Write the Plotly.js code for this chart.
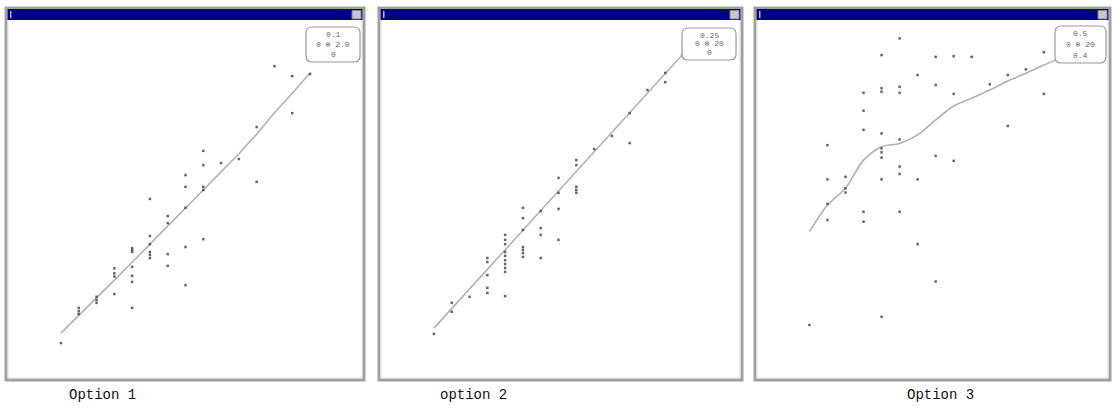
<!DOCTYPE html>
<html><head><meta charset="utf-8">
<script src="https://cdn.plot.ly/plotly-3.0.1.min.js"></script>
<style>html,body{margin:0;padding:0;background:#fff}#c{width:1114px;height:410px}</style>
</head><body><div id="c"></div>
<script>
// ---- data (column index k, value 0-100) ----
const p1X = [1,2,2,2,3,3,3,4,4,4,4,5,5,5,5,5,5,5,6,6,6,6,6,6,7,7,7,7,8,8,8,8,8,9,9,9,9,9,10,11,12,12,13,14,14,15];
const p1Y = [9.8,19.7,18.8,18.0,22.8,21.9,21.1,30.8,29.4,28.5,23.6,36.5,36.0,35.4,31.2,28.7,27.0,19.7,50.3,39.9,37.6,35.4,34.6,33.7,45.5,43.5,34.8,31.5,57.0,53.7,47.8,36.8,26.1,63.8,59.8,53.7,52.8,39.0,60.4,61.5,70.5,55.1,87.6,84.8,74.4,85.4];
const p1LineX = [1,2,3,4,5,6,7,8,9,10,11,12,13,14,15];
const p1LineY = [12.6,17.5,22.5,27.5,32.5,37.6,42.6,47.8,52.8,58.0,63.0,68.5,74.5,80.0,85.7];

const p2X = [1,2,2,3,4,4,4,4,4,5,5,5,5,5,5,5,5,5,5,6,6,6,6,6,6,6,7,7,7,7,8,8,8,8,9,9,9,9,9,10,11,12,12,13,14,14,15];
const p2Y = [12.4,21.1,18.6,22.8,33.7,32.6,28.9,25.3,23.9,40.2,38.8,37.6,35.4,34.3,33.1,32.0,30.9,29.8,23.0,47.8,44.9,41.6,36.8,36.0,35.1,34.0,46.9,42.1,40.2,33.7,56.2,52.0,47.5,38.8,61.2,59.8,53.7,52.8,52.0,64.3,68.0,74.4,66.0,80.9,85.7,83.1,91.0];
const p2LineX = [1,15];
const p2LineY = [14.0,91.0];

const p3X = [1,2,2,2,2,3,3,3,4,4,4,4,4,5,5,5,5,5,5,5,5,5,6,6,6,6,6,6,6,7,7,7,8,8,8,8,9,9,9,10,11,12,12,13,14,14,15];
const p3Y = [14.9,65.4,55.8,48.9,44.4,56.5,53.3,52.1,80.1,75.1,69.7,46.7,43.9,90.7,81.4,80.4,68.7,64.5,63.4,61.9,55.8,17.2,95.4,81.8,80.1,67.0,59.4,57.3,46.7,85.1,55.8,37.6,90.2,82.3,62.4,27.1,90.4,79.8,61.0,90.2,82.5,85.1,70.8,86.7,91.5,79.8,91.9];
const p3LineX = [1,2,3,4,5,6,7,8,9,10,11,12,13,14,14.75];
const p3LineY = [41.1,48.6,53.3,61.2,65.0,65.9,68.3,72.5,76.4,78.6,80.9,83.4,85.6,87.9,89.5];

const captions = ["Option 1","option 2","Option 3"];
const legendTop = ["0.1","0.25","0.5"];
const legendMid = ["0 \u2295 2.0","0 \u2295 20","0 \u2295 20"];
const legendBot = ["0","0","0.4"];

// ---- layout geometry (pixels) ----
const W = 1114, H = 410;
const fx = x => x / W, fy = y => 1 - y / H;
const panels = [
  {frame:[6,8,364,380], plot:[9,22,362,378], xr:[-1.92,17.92], box:[306,27,360,62], cap:102},
  {frame:[379,8,742,380], plot:[382,22,740,378], xr:[-1.92,18.2], box:[682,28,736,60], cap:473},
  {frame:[755,8,1110,380], plot:[758,22,1107,378], xr:[-1.85,17.5], box:[1055,26,1106,63], cap:940}
];
const sets = [[p1X,p1Y,p1LineX,p1LineY,'linear'],[p2X,p2Y,p2LineX,p2LineY,'linear'],[p3X,p3Y,p3LineX,p3LineY,'spline']];

const traces = [];
const layout = {width:W, height:H, margin:{l:0,r:0,t:0,b:0}, paper_bgcolor:'#fff', plot_bgcolor:'rgba(0,0,0,0)',
  showlegend:false, shapes:[], annotations:[]};

panels.forEach((p,i) => {
  const n = i === 0 ? '' : String(i+1);
  const [X,Y,LX,LY,shape] = sets[i];
  traces.push({x:LX, y:LY, xaxis:'x'+n, yaxis:'y'+n, mode:'lines', line:{color:'#b0b0b0', width:1.6, shape:shape, smoothing:0.8}, hoverinfo:'skip'});
  traces.push({x:X, y:Y, xaxis:'x'+n, yaxis:'y'+n, mode:'markers', marker:{symbol:'square', size:2.5, color:'#4a4a4a', opacity:0.85, line:{width:0}}});
  const ax = {domain:[fx(p.plot[0]), fx(p.plot[2])], range:p.xr, visible:false, fixedrange:true};
  const ay = {domain:[fy(p.plot[3]), fy(p.plot[1])], range:[0,100], visible:false, fixedrange:true};
  layout['xaxis'+n] = Object.assign({anchor:'y'+n}, ax);
  layout['yaxis'+n] = Object.assign({anchor:'x'+n}, ay);
  const [l,t,r,b] = p.frame;
  // window frame
  layout.shapes.push({type:'rect', xref:'paper', yref:'paper', x0:fx(l), x1:fx(r), y0:fy(b), y1:fy(t), line:{color:'#a0a0a0', width:3}, fillcolor:'rgba(0,0,0,0)', layer:'above'});
  layout.shapes.push({type:'rect', xref:'paper', yref:'paper', x0:fx(l+2), x1:fx(r-2), y0:fy(b-2), y1:fy(t+2), line:{color:'#e0e0e0', width:1}, fillcolor:'rgba(0,0,0,0)', layer:'above'});
  // title bar
  layout.shapes.push({type:'rect', xref:'paper', yref:'paper', x0:fx(l+1.5), x1:fx(r-1.5), y0:fy(20), y1:fy(9), line:{width:0}, fillcolor:'#000080', layer:'above'});
  layout.shapes.push({type:'rect', xref:'paper', yref:'paper', x0:fx(r-12), x1:fx(r-3), y0:fy(19), y1:fy(10.5), line:{color:'#808080', width:1}, fillcolor:'#c8c8c8', layer:'above'});
  layout.shapes.push({type:'rect', xref:'paper', yref:'paper', x0:fx(l+4), x1:fx(l+5.5), y0:fy(18), y1:fy(11), line:{width:0}, fillcolor:'#b0b0d8', layer:'above'});
  // rounded legend box
  const [bl,bt,br,bb] = p.box, rr = 6;
  const path = `M ${fx(bl+rr)} ${fy(bt)} L ${fx(br-rr)} ${fy(bt)} Q ${fx(br)} ${fy(bt)} ${fx(br)} ${fy(bt+rr)} L ${fx(br)} ${fy(bb-rr)} Q ${fx(br)} ${fy(bb)} ${fx(br-rr)} ${fy(bb)} L ${fx(bl+rr)} ${fy(bb)} Q ${fx(bl)} ${fy(bb)} ${fx(bl)} ${fy(bb-rr)} L ${fx(bl)} ${fy(bt+rr)} Q ${fx(bl)} ${fy(bt)} ${fx(bl+rr)} ${fy(bt)} Z`;
  layout.shapes.push({type:'path', xref:'paper', yref:'paper', path:path, line:{color:'#9a9a9a', width:1.2}, fillcolor:'#fff', layer:'above'});
  const cx = (bl+br)/2;
  const lf = {family:'Liberation Mono, monospace', size:8, color:'#666'};
  [[legendTop[i],bt+8],[legendMid[i],(bt+bb)/2],[legendBot[i],bb-8]].forEach(([tx,yy]) => {
    layout.annotations.push({xref:'paper', yref:'paper', x:fx(cx), y:fy(yy), text:tx, showarrow:false, font:lf, xanchor:'center', yanchor:'middle'});
  });
  // caption
  layout.annotations.push({xref:'paper', yref:'paper', x:fx(p.cap), y:fy(395), text:captions[i], showarrow:false,
    font:{family:'Liberation Mono, Courier New, monospace', size:14, color:'#111'}, xanchor:'center', yanchor:'middle'});
});

Plotly.newPlot('c', traces, layout, {displayModeBar:false, staticPlot:true});
</script></body></html>
